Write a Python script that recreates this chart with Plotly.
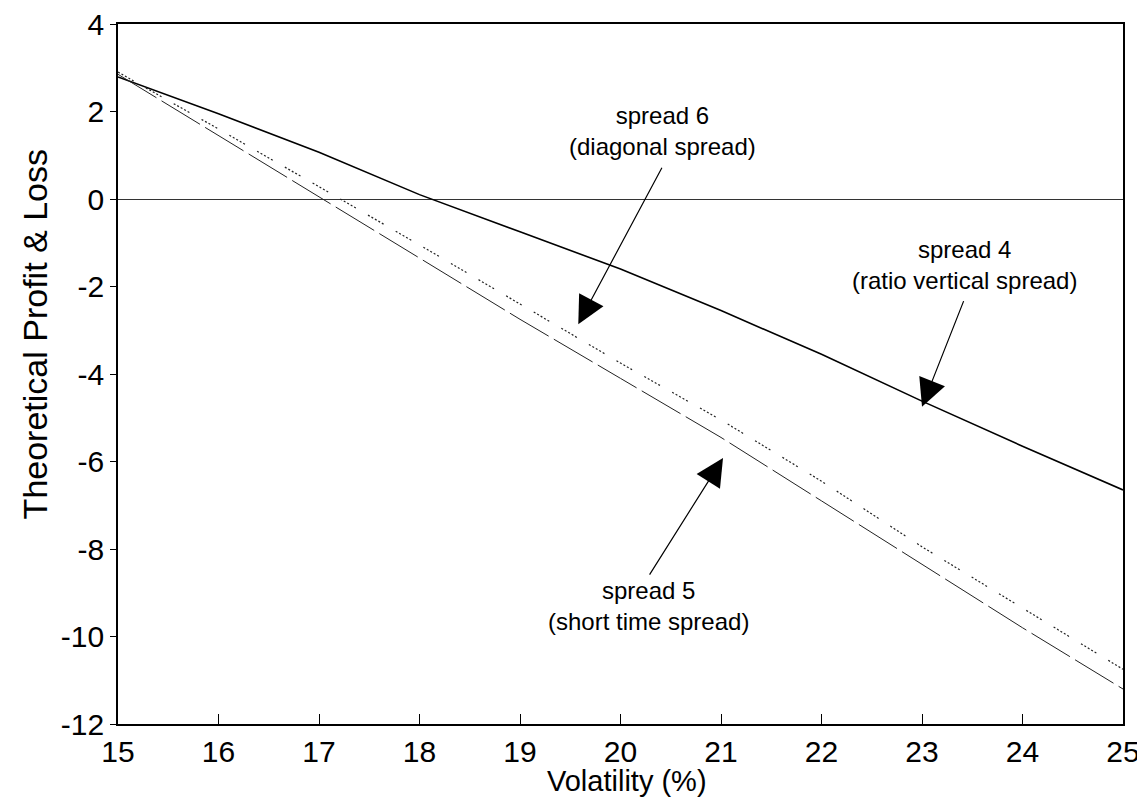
import plotly.graph_objects as go

# volatility (%) on x
volatility = [15, 16, 17, 18, 19, 20, 21, 22, 23, 24, 25]

# theoretical P&L for each spread
spread4 = [2.79, 1.95, 1.07, 0.1, -0.75, -1.6, -2.55, -3.55, -4.62, -5.65, -6.65]
spread6 = [2.9, 1.6, 0.28, -1.05, -2.4, -3.75, -5.05, -6.45, -7.95, -9.35, -10.75]
spread5 = [2.85, 1.45, 0.05, -1.35, -2.75, -4.1, -5.45, -6.9, -8.35, -9.8, -11.2]

x_ticks = [15, 16, 17, 18, 19, 20, 21, 22, 23, 24, 25]
y_ticks = [4, 2, 0, -2, -4, -6, -8, -10, -12]
y_tick_text = ["4", "2", "0", "-2", "-4", "-6", "-8", "-10", "-12"]

# annotation text, arrow tip and tail (data coordinates)
labels = ["spread 6<br>(diagonal spread)",
          "spread 4<br>(ratio vertical spread)",
          "spread 5<br>(short time spread)"]
label_pos = [(20.42, 1.55), (23.42, -1.5), (20.28, -9.3)]
arrow_tip = [(19.58, -2.86), (23.0, -4.75), (21.02, -5.92)]
arrow_tail = [(20.42, 0.75), (23.42, -2.3), (20.28, -8.62)]

fig = go.Figure()

fig.add_trace(go.Scatter(x=volatility, y=spread4, mode="lines",
                         line=dict(color="black", width=1.6)))
fig.add_trace(go.Scatter(x=volatility, y=spread6, mode="lines",
                         line=dict(color="#222", width=1.2,
                                   dash="2px,2px,2px,2px,2px,2px,2px,2px,2px,14px")))
fig.add_trace(go.Scatter(x=volatility, y=spread5, mode="lines",
                         line=dict(color="#222", width=1, dash="45px,6px")))

for txt, (lx, ly), (tx, ty), (ax, ay) in zip(labels, label_pos, arrow_tip, arrow_tail):
    fig.add_annotation(x=lx, y=ly, text=txt, showarrow=False,
                       font=dict(size=24, color="black"))
    fig.add_annotation(x=tx, y=ty, ax=ax, ay=ay, axref="x", ayref="y",
                       text="", showarrow=True, arrowhead=2, arrowsize=4.6,
                       arrowwidth=1.2, arrowcolor="black")

font_family = "Liberation Sans, Arial, sans-serif"
tick_font = dict(family=font_family, size=30, color="black")

# axis titles placed as annotations so they can sit where the original has them
fig.add_annotation(text="Volatility (%)", xref="paper", yref="paper", x=0.506, y=-0.081,
                   yanchor="middle", showarrow=False,
                   font=dict(family=font_family, size=29, color="black"))
fig.add_annotation(text="Theoretical Profit & Loss", xref="paper", yref="paper",
                   x=-0.083, y=0.556, textangle=-90, xanchor="center", yanchor="middle",
                   showarrow=False, font=dict(family=font_family, size=34, color="black"))

fig.update_xaxes(range=[15, 25], tickvals=x_ticks, ticks="inside", ticklen=10,
                 tickwidth=1.3, tickcolor="black", showline=True, linecolor="black",
                 linewidth=1.6, mirror=True, showgrid=False, zeroline=False,
                 tickfont=tick_font, ticklabeloverflow="allow", automargin=False)
fig.update_yaxes(range=[-12, 4], tickvals=y_ticks, ticktext=y_tick_text, ticks="outside",
                 ticklen=6, tickwidth=1.3, tickcolor="black", showline=True,
                 linecolor="black", linewidth=1.6, mirror=True, showgrid=False,
                 zeroline=True, zerolinecolor="#333", zerolinewidth=1,
                 tickfont=tick_font, ticklabeloverflow="allow", automargin=False)

fig.update_layout(
    width=1145, height=805,
    margin=dict(l=110, r=30, t=16, b=89),
    plot_bgcolor="white", paper_bgcolor="white",
    showlegend=False,
    font=dict(family=font_family, color="black"),
)

fig.write_html("out.html")
